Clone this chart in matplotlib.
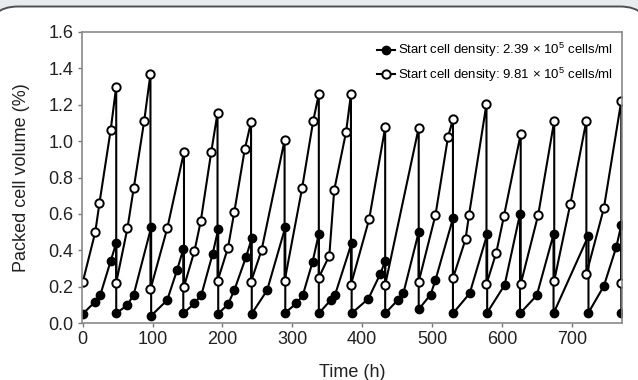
import matplotlib
matplotlib.use("Agg")
import matplotlib.pyplot as plt
from matplotlib.patches import FancyBboxPatch

plt.rcParams["font.family"] = ["Liberation Sans", "DejaVu Sans"]
plt.rcParams["mathtext.fontset"] = "custom"
plt.rcParams["mathtext.rm"] = "Liberation Sans"

# low start density (filled markers)
low_t = [0, 17, 25, 40, 48, 48, 64, 73, 98, 98, 121, 135, 144, 144, 160, 170,
         186, 194, 194, 208, 217, 234, 242, 242, 264, 290, 290, 306, 315, 329,
         338, 338, 355, 361, 385, 385, 409, 426, 433, 433, 451, 459, 481, 481,
         498, 505, 530, 530, 554, 579, 579, 604, 626, 626, 650, 674, 674, 724,
         724, 746, 764, 771, 771]
low_pcv = [0.05, 0.114, 0.152, 0.34, 0.44, 0.053, 0.099, 0.156, 0.526, 0.04,
           0.126, 0.29, 0.405, 0.053, 0.108, 0.156, 0.38, 0.515, 0.051, 0.103,
           0.18, 0.365, 0.465, 0.051, 0.18, 0.526, 0.057, 0.108, 0.152, 0.335,
           0.49, 0.053, 0.126, 0.152, 0.44, 0.053, 0.134, 0.27, 0.34, 0.053,
           0.126, 0.163, 0.50, 0.075, 0.156, 0.236, 0.575, 0.053, 0.163, 0.487,
           0.057, 0.209, 0.60, 0.053, 0.152, 0.487, 0.053, 0.48, 0.057, 0.203,
           0.42, 0.54, 0.053]

# high start density (open markers)
high_t = [0, 18, 24, 40, 48, 48, 64, 73, 88, 97, 97, 121, 145, 145, 160, 169,
          184, 193, 193, 208, 217, 232, 241, 241, 256, 289, 289, 314, 330, 338,
          338, 353, 360, 377, 384, 384, 410, 433, 433, 481, 481, 505, 523, 530,
          530, 548, 553, 578, 578, 592, 603, 627, 627, 652, 675, 675, 698, 721,
          721, 746, 771, 771]
high_pcv = [0.224, 0.50, 0.66, 1.06, 1.30, 0.222, 0.52, 0.74, 1.11, 1.37, 0.185,
            0.52, 0.94, 0.20, 0.396, 0.56, 0.94, 1.155, 0.23, 0.414, 0.61, 0.955,
            1.105, 0.227, 0.40, 1.005, 0.23, 0.74, 1.112, 1.258, 0.25, 0.37, 0.73,
            1.05, 1.258, 0.211, 0.57, 1.075, 0.209, 1.074, 0.227, 0.594, 1.024,
            1.12, 0.246, 0.46, 0.594, 1.204, 0.214, 0.386, 0.588, 1.039, 0.214,
            0.594, 1.112, 0.233, 0.654, 1.112, 0.27, 0.63, 1.222, 0.222]

x_ticks = [0, 100, 200, 300, 400, 500, 600, 700]
y_ticks = [0.0, 0.2, 0.4, 0.6, 0.8, 1.0, 1.2, 1.4, 1.6]

fig = plt.figure(figsize=(6.38, 3.80), dpi=100)
fig.patch.set_facecolor("#e9ecef")

# rounded white panel behind the chart
bg = fig.add_axes([0, 0, 1, 1], zorder=-1)
bg.set_xlim(0, 638)
bg.set_ylim(380, 0)
bg.axis("off")
bg.add_patch(FancyBboxPatch((-12, 6.5), 662, 400,
                            boxstyle="round,pad=0,rounding_size=30",
                            facecolor="white", edgecolor="#505050", lw=1.4))

ax = fig.add_axes([82 / 638, 57 / 380, 540 / 638, 291 / 380])
ax.patch.set_alpha(0)

ax.plot(low_t, low_pcv, color="black", lw=1.5, marker="o", markersize=6,
        markerfacecolor="black", markeredgecolor="black",
        label="Start cell density: 2.39 × 10$^5$ cells/ml")
ax.plot(high_t, high_pcv, color="black", lw=1.5, marker="o", markersize=6,
        markerfacecolor="white", markeredgecolor="black", markeredgewidth=1.4,
        label="Start cell density: 9.81 × 10$^5$ cells/ml")

ax.set_xlim(-1, 772)
ax.set_ylim(0, 1.6)
ax.set_xticks(x_ticks)
ax.set_yticks(y_ticks)
ax.set_yticklabels([f"{v:.1f}" for v in y_ticks])
ax.tick_params(labelsize=13, length=3, width=1, color="#777777",
               labelcolor="#222222", pad=3)
for s in ax.spines.values():
    s.set_color("#8a8a8a")
    s.set_linewidth(1.2)

ax.set_xlabel("Time (h)", fontsize=13, labelpad=11, color="#222222")
ax.set_ylabel("Packed cell volume (%)", fontsize=13, labelpad=13, color="#222222")

ax.legend(loc="upper right", frameon=False, fontsize=9.5, handlelength=1.4,
          handletextpad=0.2, labelspacing=0.45, borderaxespad=0.4,
          borderpad=0.3)

fig.savefig("out.png", dpi=100, facecolor=fig.get_facecolor())
